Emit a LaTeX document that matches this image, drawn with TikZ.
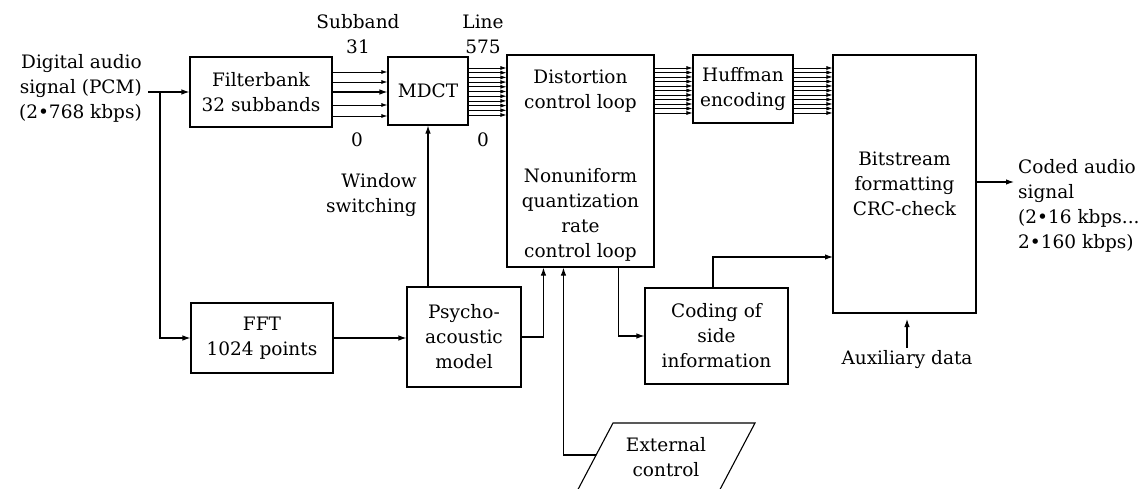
\documentclass[tikz,border=0pt]{standalone}
\usepackage{fontspec}
\setmainfont{DejaVu Serif}
\usetikzlibrary{arrows.meta}
\begin{document}
\begin{tikzpicture}[x=1pt,y=-1pt]
\tikzset{
  lbl/.style={font=\fontsize{18.5}{25}\selectfont, align=center, inner sep=0pt},
  blk/.style={lbl, draw, line width=1.1pt},
  conn/.style={line width=1.1pt, -{Latex[length=8pt,width=5.5pt]}},
  thinarr/.style={line width=0.9pt, -{Latex[length=6pt,width=4pt]}},
  bundle/.style={line width=0.7pt, -{Latex[length=6pt,width=4pt]}},
  wire/.style={line width=1.1pt}
}
\fill[white] (0,0) rectangle (1140,489);
\clip (0,0) rectangle (1140,489);

% processing blocks
\node[blk, minimum width=142pt, minimum height=70pt] (fb) at (261,92) {Filterbank\\32 subbands};
\node[blk, minimum width=80pt, minimum height=68pt] (mdct) at (428,91) {MDCT};
\node[blk, minimum width=147pt, minimum height=212pt] (dist) at (580.5,161) {};
\node[lbl] (distA) at (580.5,91.5) {Distortion\\control loop};
\node[lbl] (distB) at (580.5,215) {Nonuniform\\quantization\\rate\\control loop};
\node[blk, minimum width=100pt, minimum height=68pt] (huff) at (743,89) {Huffman\\encoding};
\node[blk, minimum width=143pt, minimum height=258pt] (bit) at (904.5,184) {Bitstream\\formatting\\CRC-check};
\node[blk, minimum width=142pt, minimum height=70pt] (fft) at (262,338) {FFT\\1024 points};
\node[blk, minimum width=114pt, minimum height=100pt] (psy) at (464,337) {Psycho-\\acoustic\\model};
\node[blk, minimum width=143pt, minimum height=96pt] (side) at (716.5,336) {Coding of\\side\\information};
\node[lbl] (ext) at (666,457.5) {External\\control};
\draw[wire] (613,423) -- (755,423) -- (716,497) -- (574,497) -- cycle;

% labels
\node[lbl, anchor=east, align=right] (src) at (142,88) {Digital audio\\signal (PCM)\\(2•768 kbps)};
\node[lbl] (sbT) at (358,34.5) {Subband\\31};
\node[lbl] (sb0) at (357,140) {0};
\node[lbl] (lnT) at (483,34.5) {Line\\575};
\node[lbl] (ln0) at (483,140) {0};
\node[lbl, anchor=east, align=right] (win) at (417,195) {Window\\switching};
\node[lbl, anchor=west, align=left] (coded) at (1018,205.5) {Coded audio\\signal\\(2•16 kbps...\\2•160 kbps)};
\node[lbl] (aux) at (907,360) {Auxiliary data};

% input and branch to the FFT
\coordinate (inS) at (148,92);
\coordinate (br) at (160,92);
\draw[conn] (inS) -- (fb.west);
\draw[conn] (br) |- (fft.west);

% subband outputs
\foreach \y in {72,82,105,116}
  \draw[thinarr] (fb.east |- 0,\y) -- (mdct.west |- 0,\y);
\draw[conn] (fb.east |- 0,92) -- (mdct.west |- 0,92);

% spectral line bundles
\foreach \i in {0,...,10}
  \draw[bundle] (mdct.east |- 0,{68+4.7*\i}) -- (dist.west |- 0,{68+4.7*\i});
\foreach \i in {0,...,10}
  \draw[bundle] (dist.east |- 0,{68+4.5*\i}) -- (huff.west |- 0,{68+4.5*\i});
\foreach \i in {0,...,10}
  \draw[bundle] (huff.east |- 0,{68+4.5*\i}) -- (bit.west |- 0,{68+4.5*\i});

% control paths
\draw[conn] (mdct.south |- psy.north) -- (mdct.south);
\draw[conn] (fft.east) -- (fft.east -| psy.west);
\coordinate (dIn1) at ([xshift=37pt]dist.south west);
\coordinate (dIn2) at ([xshift=57pt]dist.south west);
\coordinate (dOut) at ([xshift=112pt]dist.south west);
\coordinate (extL) at (596,455);
\draw[conn] (psy.east) -| (dIn1);
\draw[conn] (extL) -| (dIn2);
\draw[conn] (dOut) |- (side.west);
\coordinate (sideT) at ([xshift=-3.5pt]side.north);
\coordinate (bIn) at (833,257);
\draw[conn] (sideT) |- (bIn);
\coordinate (outE) at (1014,182);
\draw[conn] (bit.east |- outE) -- (outE);
\coordinate (auxT) at (907,319);
\draw[conn] ([yshift=3pt]aux.north) -- (auxT);
\end{tikzpicture}
\end{document}
